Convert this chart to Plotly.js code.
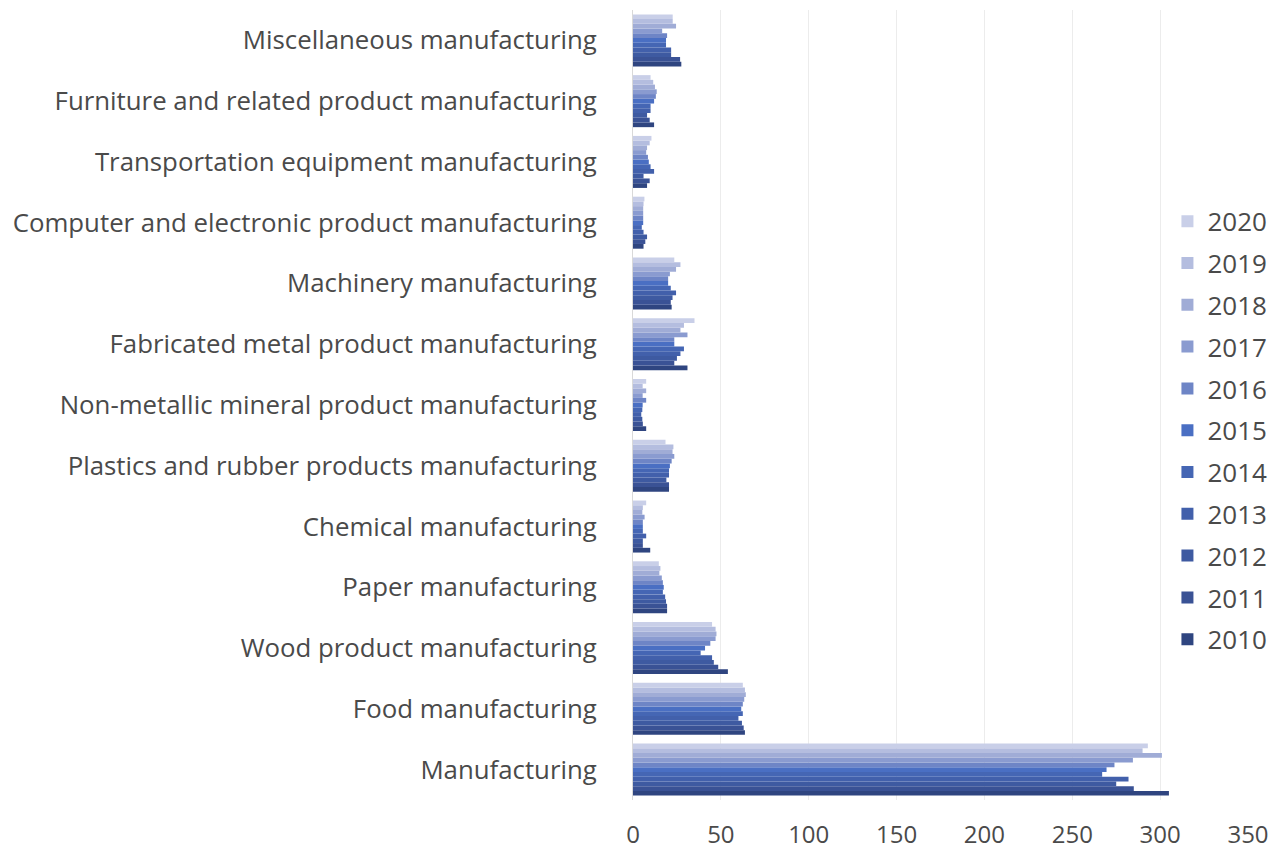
<!DOCTYPE html>
<html>
<head>
<meta charset="utf-8">
<script src="https://cdn.plot.ly/plotly-3.0.1.min.js"></script>
<style>html,body{margin:0;padding:0;background:#fff;}#chart{width:1287px;height:850px;}</style>
</head>
<body>
<div id="chart"></div>
<script>
// Categories, listed top to bottom as in the reference
const categories = [
  "Miscellaneous manufacturing",
  "Furniture and related product manufacturing",
  "Transportation equipment manufacturing",
  "Computer and electronic product manufacturing",
  "Machinery manufacturing",
  "Fabricated metal product manufacturing",
  "Non-metallic mineral product manufacturing",
  "Plastics and rubber products manufacturing",
  "Chemical manufacturing",
  "Paper manufacturing",
  "Wood product manufacturing",
  "Food manufacturing",
  "Manufacturing"
];

const years = ["2010","2011","2012","2013","2014","2015","2016","2017","2018","2019","2020"];

const v2010 = [27.5, 12, 8, 6, 22, 31, 7.5, 20.5, 9.8, 19.4, 54, 63.7, 305];
const v2011 = [26.8, 9.5, 9.5, 7, 21.5, 23.5, 5.6, 20.5, 5.6, 19.4, 48.5, 63, 285];
const v2012 = [21.7, 8, 6, 8, 22.5, 25, 5.3, 19, 5.6, 18.8, 46, 62, 275];
const v2013 = [21.7, 10, 12, 6, 24.5, 27, 4.7, 20.5, 7.5, 18.3, 45, 60, 282];
const v2014 = [18.8, 10, 10, 5, 21.5, 29, 5.3, 20.5, 5.6, 17, 38.5, 62.5, 267];
const v2015 = [18.8, 12, 9, 5.8, 20, 23.5, 5.5, 21, 5.6, 17.5, 41, 61.6, 269.5];
const v2016 = [19.4, 13, 8.5, 5.8, 20, 23.5, 7.5, 22, 5.6, 17, 44, 62.5, 274];
const v2017 = [16.6, 13.5, 7.5, 5.8, 21, 31, 5.5, 23.5, 6.6, 16.4, 47, 63.3, 284.5];
const v2018 = [24.5, 12.5, 8, 5.8, 24.5, 27, 7.5, 22.5, 5.3, 15, 47.5, 64.2, 301];
const v2019 = [22.6, 11.5, 9.5, 6, 27, 29, 5.5, 23, 5.6, 15.6, 47, 63.7, 290];
const v2020 = [22.6, 10, 10.5, 6.5, 23.5, 35, 7.5, 18.5, 7.5, 14.7, 45, 62.5, 293];

const seriesValues = [v2010, v2011, v2012, v2013, v2014, v2015, v2016, v2017, v2018, v2019, v2020];

const colors = ["#2f4580", "#3a5295", "#3e5aa1", "#4260ab", "#4566b4", "#4a6fc3",
                "#6e85c6", "#8a9bd0", "#a0acd6", "#b4bddf", "#c9cfe8"];

const FONT = "'Open Sans', 'Noto Sans', sans-serif";

const traces = years.map((yr, i) => ({
  type: "bar",
  orientation: "h",
  name: yr,
  y: categories,
  x: seriesValues[i],
  marker: { color: colors[i], line: { width: 0 } },
  legendgroup: "g" + yr,
  legendrank: 1000 - i,
  hoverinfo: "skip"
}));

const layout = {
  width: 1287,
  height: 850,
  margin: { l: 633, r: 39, t: 10, b: 50 },
  paper_bgcolor: "#ffffff",
  plot_bgcolor: "#ffffff",
  barmode: "group",
  bargap: 0.144,
  bargroupgap: 0,
  font: { family: FONT, size: 24, color: "#4a4a4a" },
  xaxis: {
    range: [0, 350],
    tickvals: [0, 50, 100, 150, 200, 250, 300, 350],
    showgrid: true,
    gridcolor: "#ececec",
    gridwidth: 1,
    zeroline: false,
    showline: false,
    ticks: "outside",
    ticklen: 13,
    tickcolor: "rgba(0,0,0,0)",
    tickfont: { family: FONT, size: 24, color: "#4a4a4a" },
    fixedrange: true
  },
  yaxis: {
    type: "category",
    categoryorder: "array",
    categoryarray: categories.slice().reverse(),
    showgrid: false,
    showline: true,
    linecolor: "#d9d9d9",
    linewidth: 1,
    ticks: "outside",
    ticklen: 30,
    tickcolor: "rgba(0,0,0,0)",
    tickfont: { family: FONT, size: 25.8, color: "#4a4a4a" },
    fixedrange: true
  },
  showlegend: true,
  legend: {
    x: 0.869,
    xanchor: "left",
    y: 0.468,
    yanchor: "middle",
    traceorder: "grouped",
    tracegroupgap: 5,
    bgcolor: "rgba(0,0,0,0)",
    font: { family: FONT, size: 26, color: "#4a4a4a" },
    itemwidth: 30
  },
  hovermode: false
};

Plotly.newPlot("chart", traces, layout, { displayModeBar: false, staticPlot: true });
</script>
</body>
</html>
